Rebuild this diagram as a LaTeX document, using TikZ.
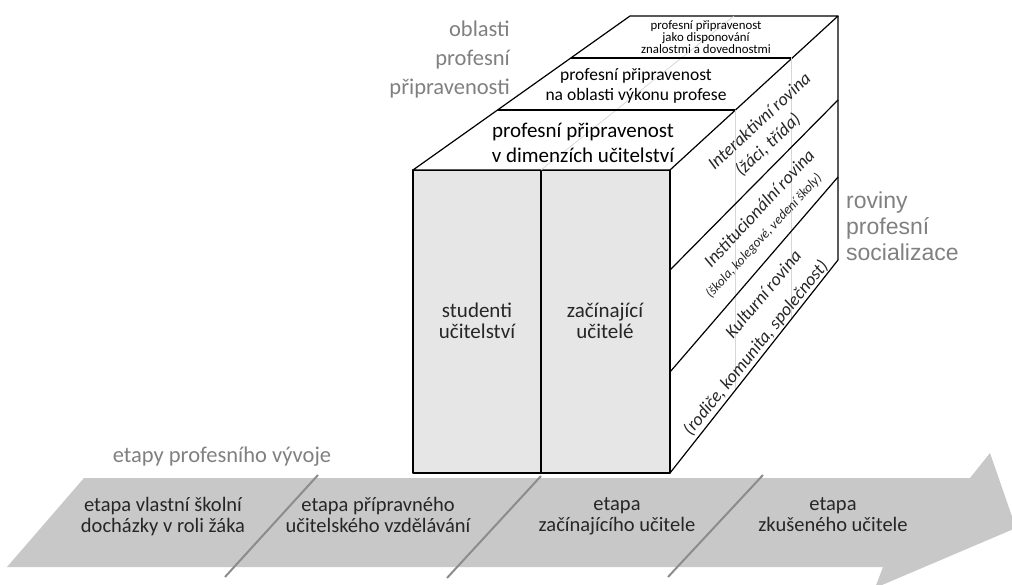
\documentclass[tikz,border=0pt]{standalone}
\usepackage{fontspec}
\setmainfont{Carlito}
\newfontfamily\arialfont{Liberation Sans}
\usepackage{tikz}
\usetikzlibrary{positioning, calc}

\definecolor{facegray}{HTML}{E6E6E6}
\definecolor{bandgray}{HTML}{C8C8C8}
\definecolor{sepgray}{HTML}{8C8C8C}
\definecolor{labelgray}{HTML}{808080}
\definecolor{textdark}{HTML}{262626}
\definecolor{faintgray}{HTML}{D6D6D6}

\begin{document}
\begin{tikzpicture}[
    x=1pt, y=-1pt,
    edge/.style={line width=1.2pt, black, line join=round},
    faint/.style={line width=0.7pt, faintgray},
    sepline/.style={line width=2pt, sepgray},
    graylabel/.style={inner sep=0pt, text=labelgray},
    facetext/.style={inner sep=0pt, align=center, text=black},
    bandtext/.style={inner sep=0pt, align=center, text=textdark, font=\fontsize{20.5}{21}\selectfont,
        execute at begin node=\strut, execute at end node=\strut},
    sidetext/.style={inner sep=0pt, text=textdark, font=\itshape\fontsize{18}{20}\selectfont}
]

    % Frame
    \clip (0,0) rectangle (1012,585);

    % Arrow of stages
    \fill[bandgray] (7,567) -- (84,478) -- (970,478) -- (990,453) -- (1016,528)
        -- (875,588) -- (883,567) -- cycle;
    \draw[sepline] (225,577) -- (318,475);
    \draw[sepline] (447,578) -- (541,476);
    \draw[sepline] (668,577) -- (763,475);

    % Cube corners
    \coordinate (ftl) at (413,170);
    \coordinate (ftr) at (670,170);
    \coordinate (fbl) at (413,473);
    \coordinate (fbr) at (670,473);
    \coordinate (btl) at (630,16);
    \coordinate (btr) at (838,16);
    \coordinate (bbr) at (838,260);

    % Front face
    \filldraw[edge, fill=facegray] (ftl) rectangle (fbr);
    \draw[edge] (541,170) -- (541,473);

    % Top face
    \filldraw[edge, fill=white] (ftl) -- (btl) -- (btr) -- (ftr) -- cycle;
    \draw[faint] (541,170) -- (734,16);
    \draw[edge] (497.5,110) -- (735,110);
    \draw[edge] (571,58) -- (791,58);

    % Right face
    \draw[faint] (735,110) -- (735,391);
    \draw[faint] (791,58) -- (791,320);
    \draw[edge] (btr) -- (bbr) -- (fbr);
    \draw[edge] (670,270) -- (838,100);
    \draw[edge] (670,372) -- (838,177);

    % Labels of the top face
    \node[facetext, font=\fontsize{21}{25}\selectfont] (dimenze) at (583,143)
        {profesní připravenost\\v dimenzích učitelství};
    \node[facetext, font=\fontsize{17.5}{19.5}\selectfont] (oblastiVykonu) at (636,86)
        {profesní připravenost\\na oblasti výkonu profese};
    \node[facetext, font=\fontsize{12.8}{11.8}\selectfont] (disponovani) at (706,37)
        {profesní připravenost\\jako disponování\\znalostmi a dovednostmi};

    % Labels of the front face
    \node[facetext, text=textdark, font=\fontsize{21}{21}\selectfont] (studenti) at (477,321)
        {studenti\\učitelství};
    \node[facetext, text=textdark, font=\fontsize{21}{21}\selectfont] (zacinajici) at (605,321)
        {začínající\\učitelé};

    % Labels of the right face
    \node[sidetext, rotate=43] (interaktivni) at (759,121) {Interaktivní rovina};
    \node[sidetext, rotate=43] (interaktivniSub) at (768,145) {(žáci, třída)};
    \node[sidetext, rotate=47] (instituc) at (759,208) {Institucionální rovina};
    \node[sidetext, rotate=47, font=\itshape\fontsize{13.5}{15}\selectfont] (institucSub) at (764,236)
        {(škola, kolegové, vedení školy)};
    \node[sidetext, rotate=50] (kulturni) at (763,294) {Kulturní rovina};
    \node[sidetext, rotate=51] (kulturniSub) at (756,348) {(rodiče, komunita, společnost)};

    % Gray captions
    \node[graylabel, align=right, anchor=east, font=\fontsize{22.5}{29}\selectfont] (oblasti) at (510,60)
        {oblasti\\profesní\\připravenosti};
    \node[graylabel, align=left, anchor=west, font=\arialfont\fontsize{23}{26}\selectfont] (roviny) at (846,226)
        {roviny\\profesní\\socializace};
    \node[graylabel, font=\fontsize{22.5}{24}\selectfont] (etapy) at (222,457) {etapy profesního vývoje};

    % Stages
    \node[bandtext] (etapaZak) at (163,518) {etapa vlastní školní\\docházky v roli žáka};
    \node[bandtext] (etapaPriprava) at (378,518) {etapa přípravného\\učitelského vzdělávání};
    \node[bandtext] (etapaZacatek) at (617,518) {etapa\\začínajícího učitele};
    \node[bandtext] (etapaZkuseny) at (833,518) {etapa\\zkušeného učitele};

\end{tikzpicture}
\end{document}
